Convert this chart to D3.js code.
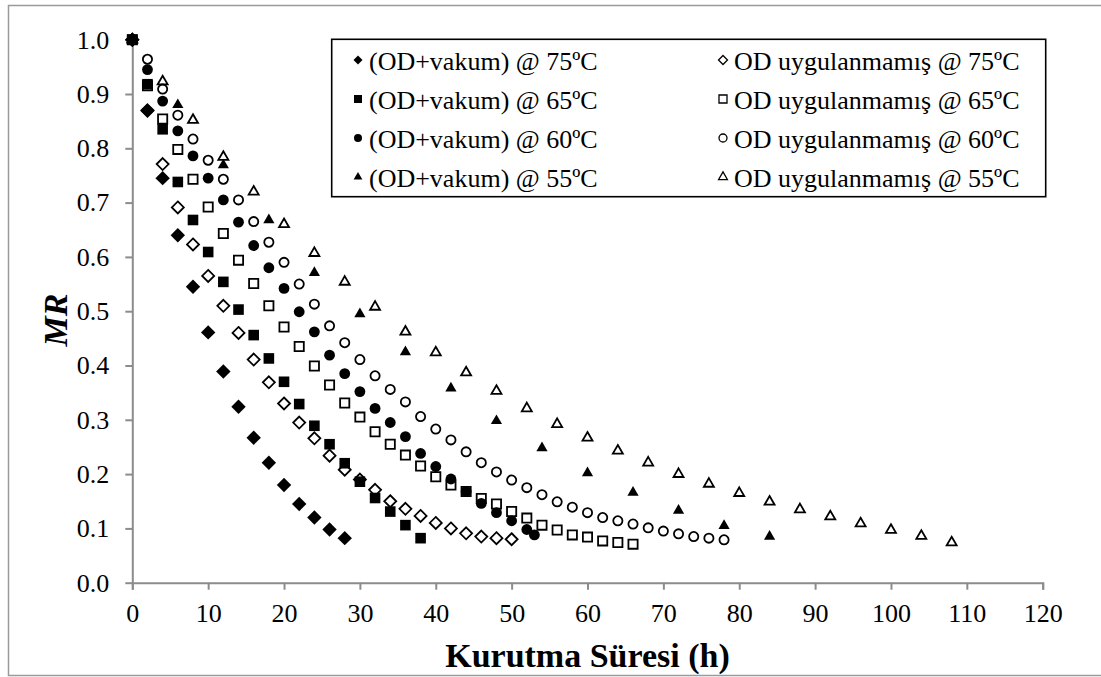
<!DOCTYPE html>
<html>
<head>
<meta charset="utf-8">
<script src="https://cdn.jsdelivr.net/npm/d3@7"></script>
<style>
  body { margin: 0; background: #fff; }
  svg { display: block; font-family: 'Liberation Serif', 'Times New Roman', serif; }
  .axis path, .axis line { stroke: #8c8c8c; stroke-width: 2; }
  .axis text { font-size: 26px; fill: #000; font-family: 'Liberation Serif', serif; }
</style>
</head>
<body>
<svg id="chart" width="1101" height="677"></svg>
<script>
// drying time (h) and moisture ratio
const hoursF75 = [0, 2, 4, 6, 8, 10, 12, 14, 16, 18, 20, 22, 24, 26, 28]
const mrF75 = [1, 0.869, 0.745, 0.64, 0.545, 0.461, 0.389, 0.324, 0.267, 0.221, 0.18, 0.145, 0.12, 0.098, 0.082]

const hoursO75 = [0, 2, 4, 6, 8, 10, 12, 14, 16, 18, 20, 22, 24, 26, 28, 30, 32, 34, 36, 38, 40, 42, 44, 46, 48, 50]
const mrO75 = [1, 0.87, 0.771, 0.691, 0.623, 0.565, 0.51, 0.46, 0.411, 0.369, 0.33, 0.295, 0.266, 0.234, 0.208, 0.19,
  0.171, 0.15, 0.136, 0.123, 0.11, 0.1, 0.091, 0.085, 0.082, 0.08]

const hoursF65 = [0, 2, 4, 6, 8, 10, 12, 14, 16, 18, 20, 22, 24, 26, 28, 30, 32, 34, 36, 38]
const mrF65 = [1, 0.918, 0.835, 0.738, 0.668, 0.609, 0.554, 0.503, 0.456, 0.413, 0.37, 0.329, 0.289, 0.255, 0.22,
  0.186, 0.156, 0.131, 0.106, 0.082]

const hoursO65 = [0, 2, 4, 6, 8, 10, 12, 14, 16, 18, 20, 22, 24, 26, 28, 30, 32, 34, 36, 38, 40, 42, 44, 46, 48,
  50, 52, 54, 56, 58, 60, 62, 64, 66]
const mrO65 = [1, 0.915, 0.854, 0.798, 0.743, 0.692, 0.643, 0.594, 0.551, 0.51, 0.471, 0.435, 0.399, 0.364, 0.331,
  0.305, 0.278, 0.255, 0.235, 0.215, 0.195, 0.18, 0.168, 0.155, 0.145, 0.131, 0.119, 0.106, 0.097, 0.088, 0.084,
  0.077, 0.074, 0.071]

const hoursF60 = [0, 2, 4, 6, 8, 10, 12, 14, 16, 18, 20, 22, 24, 26, 28, 30, 32, 34, 36, 38, 40, 42, 44, 46, 48,
  50, 52, 53]
const mrF60 = [1, 0.945, 0.887, 0.832, 0.786, 0.745, 0.705, 0.664, 0.621, 0.58, 0.542, 0.499, 0.462, 0.419, 0.385,
  0.352, 0.321, 0.295, 0.269, 0.238, 0.214, 0.191, 0.168, 0.146, 0.129, 0.114, 0.098, 0.088]

const hoursO60 = [0, 2, 4, 6, 8, 10, 12, 14, 16, 18, 20, 22, 24, 26, 28, 30, 32, 34, 36, 38, 40, 42, 44, 46, 48,
  50, 52, 54, 56, 58, 60, 62, 64, 66, 68, 70, 72, 74, 76, 78]
const mrO60 = [1, 0.964, 0.909, 0.861, 0.817, 0.778, 0.743, 0.705, 0.665, 0.627, 0.59, 0.55, 0.513, 0.473, 0.442,
  0.411, 0.381, 0.356, 0.333, 0.306, 0.283, 0.263, 0.241, 0.221, 0.204, 0.189, 0.175, 0.162, 0.149, 0.139, 0.129,
  0.12, 0.114, 0.108, 0.101, 0.095, 0.09, 0.085, 0.082, 0.079]

const hoursF55 = [0, 6, 12, 18, 24, 30, 36, 42, 48, 54, 60, 66, 72, 78, 84]
const mrF55 = [1, 0.88, 0.769, 0.668, 0.571, 0.495, 0.425, 0.358, 0.298, 0.248, 0.202, 0.166, 0.133, 0.105, 0.085]

const hoursO55 = [0, 4, 8, 12, 16, 20, 24, 28, 32, 36, 40, 44, 48, 52, 56, 60, 64, 68, 72, 76, 80, 84, 88, 92, 96,
  100, 104, 108]
const mrO55 = [1, 0.923, 0.852, 0.784, 0.72, 0.66, 0.607, 0.554, 0.508, 0.462, 0.424, 0.387, 0.353, 0.321, 0.292,
  0.267, 0.243, 0.221, 0.2, 0.182, 0.165, 0.149, 0.135, 0.122, 0.109, 0.097, 0.086, 0.074]

const xTicks = [0, 10, 20, 30, 40, 50, 60, 70, 80, 90, 100, 110, 120]
const yTicks = [0, 0.1, 0.2, 0.3, 0.4, 0.5, 0.6, 0.7, 0.8, 0.9, 1.0]

// legend order is row-wise, as in the spreadsheet
const series = [
  { label: '(OD+vakum) @ 75ºC', shape: 'diamond', filled: true, x: hoursF75, y: mrF75 },
  { label: 'OD uygulanmamış @ 75ºC', shape: 'diamond', filled: false, x: hoursO75, y: mrO75 },
  { label: '(OD+vakum) @ 65ºC', shape: 'square', filled: true, x: hoursF65, y: mrF65 },
  { label: 'OD uygulanmamış @ 65ºC', shape: 'square', filled: false, x: hoursO65, y: mrO65 },
  { label: '(OD+vakum) @ 60ºC', shape: 'circle', filled: true, x: hoursF60, y: mrF60 },
  { label: 'OD uygulanmamış @ 60ºC', shape: 'circle', filled: false, x: hoursO60, y: mrO60 },
  { label: '(OD+vakum) @ 55ºC', shape: 'triangle', filled: true, x: hoursF55, y: mrF55 },
  { label: 'OD uygulanmamış @ 55ºC', shape: 'triangle', filled: false, x: hoursO55, y: mrO55 }
]

/** Path of a marker centred on 0,0
  * @param {String} shape
  * @param {Number} r half width of the marker
  */
function markerPath (shape, r) {
  if (shape === 'diamond') return `M0,${-r}L${r},0L0,${r}L${-r},0Z`
  if (shape === 'square') return `M${-r},${-r}H${r}V${r}H${-r}Z`
  if (shape === 'circle') return `M${r},0A${r},${r} 0 1,1 ${-r},0A${r},${r} 0 1,1 ${r},0Z`
  const h = r * 1.732
  return `M0,${-h * 2 / 3}L${r},${h / 3}L${-r},${h / 3}Z`
}

const SIZE = { diamond: 7.2, square: 5.3, circle: 5.4, triangle: 5.6 }
const OPEN_SIZE = { diamond: 6, square: 4.6, circle: 4.6, triangle: 5 }
const LEGEND_SIZE = { diamond: 4.5, square: 4, circle: 4, triangle: 4.4 }

function main () {
  const svg = d3.select('#chart')

  svg.append('rect')
    .attr('x', 8.5).attr('y', 5.5).attr('width', 1100).attr('height', 670)
    .attr('fill', 'none').attr('stroke', '#9a9a9a').attr('stroke-width', 1.5)

  const x = d3.scaleLinear().domain([0, 120]).range([132.3, 1042.7])
  const y = d3.scaleLinear().domain([0, 1]).range([582.7, 39.7])

  svg.append('g').attr('class', 'axis')
    .attr('transform', `translate(0,${y(0)})`)
    .call(d3.axisBottom(x).tickValues(xTicks).tickSize(7).tickPadding(14).tickSizeOuter(7))

  svg.append('g').attr('class', 'axis')
    .attr('transform', `translate(${x(0)},0)`)
    .call(d3.axisLeft(y).tickValues(yTicks).tickFormat(d3.format('.1f')).tickSize(7).tickPadding(16).tickSizeOuter(0))

  svg.selectAll('.axis .domain').attr('fill', 'none')

  series.forEach(s => {
    const r = s.filled ? SIZE[s.shape] : OPEN_SIZE[s.shape]
    svg.append('g').selectAll('path')
      .data(s.x.map((h, i) => [h, s.y[i]]))
      .enter().append('path')
      .attr('d', markerPath(s.shape, r))
      .attr('transform', d => `translate(${x(d[0])},${y(d[1])})`)
      .attr('fill', s.filled ? '#000' : 'none')
      .attr('stroke', '#000')
      .attr('stroke-width', s.filled ? 0 : 1.8)
  })

  // legend
  const legend = svg.append('g')
  legend.append('rect')
    .attr('x', 331.7).attr('y', 39.3).attr('width', 714).attr('height', 157.4)
    .attr('fill', '#fff').attr('stroke', '#000').attr('stroke-width', 1.6)

  const colX = [358, 723]
  series.forEach((s, i) => {
    const cx = colX[i % 2]
    const base = 70 + Math.floor(i / 2) * 39
    legend.append('path')
      .attr('d', markerPath(s.shape, LEGEND_SIZE[s.shape]))
      .attr('transform', `translate(${cx},${base - 10})`)
      .attr('fill', s.filled ? '#000' : 'none')
      .attr('stroke', '#000')
      .attr('stroke-width', s.filled ? 0 : 1.3)
    legend.append('text')
      .attr('x', cx + 11).attr('y', base)
      .attr('font-size', 26)
      .text(s.label)
  })

  // axis titles
  svg.append('text')
    .attr('x', (x(0) + x(120)) / 2).attr('y', 667)
    .attr('text-anchor', 'middle')
    .attr('font-size', 34).attr('font-weight', 'bold')
    .text('Kurutma Süresi (h)')

  svg.append('text')
    .attr('transform', 'translate(67,320) rotate(-90)')
    .attr('text-anchor', 'middle')
    .attr('font-size', 34).attr('font-weight', 'bold').attr('font-style', 'italic')
    .text('MR')
}

main()
</script>
</body>
</html>
